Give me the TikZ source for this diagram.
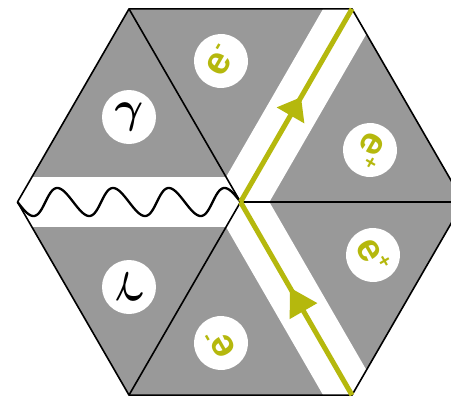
\RequirePackage{fix-cm}
\documentclass[tikz,border=0pt]{standalone}
\usepackage{bm}
\usepackage{fontspec}
\newfontfamily\lsans{Liberation Sans}
\usetikzlibrary{calc}
\definecolor{tilegray}{RGB}{153,153,153}
\definecolor{eyellow}{RGB}{181,184,13}
\begin{document}
\begin{tikzpicture}[x=1pt,y=-1pt,
  edge/.style={black,line width=1.6pt,line join=round},
  band/.style={white,line width=50pt},
  fermion/.style={eyellow,line width=5pt},
  tiphead/.style={fill=eyellow},
  badge/.style={circle,fill=white,minimum size=54pt,inner sep=0pt},
  elabel/.style={badge,text=eyellow,font=\lsans\bfseries\fontsize{39}{39}\selectfont},
  glabel/.style={badge,font=\fontsize{44}{44}\selectfont},
]
\useasboundingbox (0,0) rectangle (451,397);
\clip (0,0) rectangle (451,397);
\coordinate (C) at (240.5,202);
\coordinate (TL) at (129,8.9);
\coordinate (TR) at (352,8.9);
\coordinate (L) at (17.5,202);
\coordinate (R) at (463.5,202);
\coordinate (BL) at (129,395.1);
\coordinate (BR) at (352,395.1);
% tiles
\fill[tilegray] (TL)--(TR)--(R)--(BR)--(BL)--(L)--cycle;
% white bands
\begin{scope}
  \clip (C)--(TL)--(L)--(BL)--cycle;
  \draw[band] ($(C)!-0.2!(L)$) -- ($(C)!1.2!(L)$);
\end{scope}
\begin{scope}
  \clip (C)--(TL)--(TR)--(R)--cycle;
  \draw[band] ($(C)!-0.2!(TR)$) -- ($(C)!1.2!(TR)$);
\end{scope}
\begin{scope}
  \clip (C)--(R)--(BR)--(BL)--cycle;
  \draw[band] ($(C)!-0.2!(BR)$) -- ($(C)!1.2!(BR)$);
\end{scope}
% outlines
\draw[edge] (TL)--(TR)--(R)--(BR)--(BL)--(L)--cycle;
\draw[edge] (C)--(TL);
\draw[edge] (C)--(BL);
\draw[edge] (C)--(R);
% photon
\draw[line width=2.3pt,line join=round] plot[domain=0:4,samples=240] ({17.5+55.75*\x+2*sin(360*\x)},{202+14*sin(360*\x)});
% fermions
\draw[fermion] (C) -- (TR);
\draw[fermion] (BR) -- (C);
% arrowheads
\coordinate (a1tip) at ($(C)!121pt!(TR)$);
\coordinate (a1base) at ($(C)!100pt!(TR)$);
\fill[tiphead] (a1tip) -- ($(a1base)!16pt!90:(TR)$) -- ($(a1base)!16pt!-90:(TR)$) -- cycle;
\coordinate (a2tip) at ($(C)!99pt!(BR)$);
\coordinate (a2base) at ($(C)!126pt!(BR)$);
\fill[tiphead] (a2tip) -- ($(a2base)!16pt!90:(BR)$) -- ($(a2base)!16pt!-90:(BR)$) -- cycle;
% badges
\node[glabel] (g1) at (129,117) {$\bm{\gamma}$};
\node[glabel,rotate=180] (g2) at (129,287) {$\bm{\gamma}$};
\node[elabel,rotate=60] (em1) at (221,61) {e\raisebox{0.7ex}{\fontsize{21}{21}\selectfont -}};
\node[elabel,rotate=120] (em2) at (221,343) {e\raisebox{0.7ex}{\fontsize{21}{21}\selectfont -}};
\node[elabel,rotate=-120] (ep1) at (370,150) {e\raisebox{0.6ex}{\fontsize{20}{20}\selectfont +}};
\node[elabel,rotate=-60] (ep2) at (373,255) {e\raisebox{0.6ex}{\fontsize{20}{20}\selectfont +}};
\end{tikzpicture}
\end{document}
